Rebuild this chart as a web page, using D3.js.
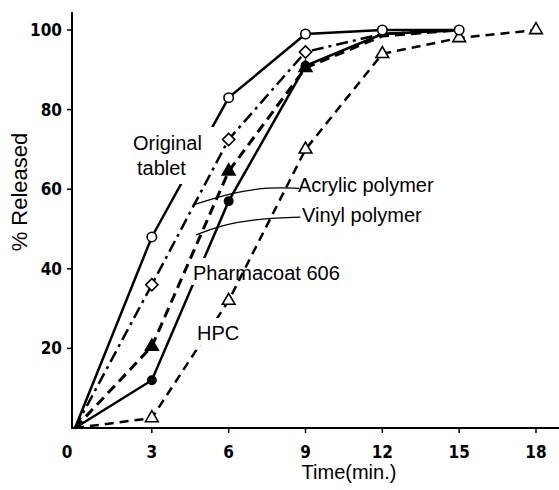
<!DOCTYPE html>
<html><head><meta charset="utf-8">
<script src="https://cdn.jsdelivr.net/npm/d3@7"></script>
<style>
body{margin:0;background:#fff;}
svg{display:block;}
</style></head>
<body>
<script>
// ---- data ----
const times = [0, 3, 6, 9, 12, 15];
const timesHPC = [0, 3, 6, 9, 12, 15, 18];
const original = [0, 48, 83, 99, 100, 100];
const acrylic = [0, 36, 72.5, 94.5, 99, 100];
const vinyl = [0, 20.5, 64.5, 90.5, 98.5, 100];
const pharmacoat = [0, 12, 57, 91, 99, 100];
const hpc = [0, 2.5, 32, 70, 94, 98, 100];
const xTicks = [0, 3, 6, 9, 12, 15, 18];
const yTicks = [20, 40, 60, 80, 100];

const W = 559, H = 490;
const svg = d3.select("body").append("svg").attr("width", W).attr("height", H);
const x = d3.scaleLinear().domain([0, 18]).range([75, 536]);
const y = d3.scaleLinear().domain([0, 100]).range([428, 30]);
const numFont = "'Liberation Sans Narrow','DejaVu Sans Condensed',sans-serif";
const txtFont = "'Liberation Sans',Arial,sans-serif";

// masks for label gaps
const defs = svg.append("defs");
function mkMask(id, r) {
  const m = defs.append("mask").attr("id", id).attr("maskUnits", "userSpaceOnUse")
    .attr("x", 0).attr("y", 0).attr("width", W).attr("height", H);
  m.append("rect").attr("width", W).attr("height", H).attr("fill", "#fff");
  m.append("rect").attr("x", r[0]).attr("y", r[1]).attr("width", r[2]).attr("height", r[3]).attr("fill", "#000");
}
mkMask("mOrig", [115, 127, 100, 57]);
mkMask("mPharm", [180, 258, 40, 27]);
mkMask("mHPC", [190, 318, 40, 27]);

// axes
svg.append("line").attr("x1", 72).attr("x2", 72).attr("y1", 12).attr("y2", 429)
  .attr("stroke", "#000").attr("stroke-width", 2);
svg.append("line").attr("x1", 71).attr("x2", 559).attr("y1", 428).attr("y2", 428)
  .attr("stroke", "#000").attr("stroke-width", 2);
yTicks.forEach(v => {
  svg.append("line").attr("x1", 67).attr("x2", 72).attr("y1", y(v)).attr("y2", y(v))
    .attr("stroke", "#000").attr("stroke-width", 1.5);
  svg.append("text").attr("x", 62).attr("y", y(v)).attr("dy", "0.35em")
    .attr("text-anchor", "end").attr("font-family", numFont).attr("font-weight", "bold")
    .attr("font-size", 17).text(v);
});
xTicks.forEach(v => {
  if (v > 0) svg.append("line").attr("x1", x(v)).attr("x2", x(v)).attr("y1", 428).attr("y2", 433)
    .attr("stroke", "#000").attr("stroke-width", 1.5);
  svg.append("text").attr("x", v === 0 ? 67 : x(v)).attr("y", 458)
    .attr("text-anchor", "middle").attr("font-family", numFont).attr("font-weight", "bold")
    .attr("font-size", 17).text(v);
});
svg.append("text").attr("x", 349).attr("y", 479).attr("text-anchor", "middle")
  .attr("font-family", txtFont).attr("font-size", 20).text("Time(min.)");
svg.append("text").attr("transform", "translate(27,192) rotate(-90)").attr("text-anchor", "middle")
  .attr("font-family", txtFont).attr("font-size", 22).text("% Released");

// series (markerUntil: last time drawn with a visible marker)
const series = [
  {name: "Acrylic polymer", t: times, v: acrylic, dash: "12,5,3,5", w: 2.5, mask: null, marker: "diamondOpen", markerUntil: 9},
  {name: "Vinyl polymer", t: times, v: vinyl, dash: "10,6", w: 3, mask: null, marker: "triFilled", markerUntil: 9},
  {name: "Pharmacoat 606", t: times, v: pharmacoat, dash: null, w: 2.5, mask: "mPharm", marker: "circleFilled", markerUntil: 9},
  {name: "HPC", t: timesHPC, v: hpc, dash: "9,6", w: 2.5, mask: "mHPC", marker: "triOpen", markerUntil: 18},
  {name: "Original tablet", t: times, v: original, dash: null, w: 2.5, mask: "mOrig", marker: "circleOpen", markerUntil: 15}
];
const line = d3.line().x(d => x(d[0])).y(d => y(d[1]));
series.forEach(s => {
  const pts = s.t.map((t, i) => [t, s.v[i]]);
  const p = svg.append("path").attr("d", line(pts)).attr("fill", "none")
    .attr("stroke", "#000").attr("stroke-width", s.w);
  if (s.dash) p.attr("stroke-dasharray", s.dash);
  if (s.mask) p.attr("mask", `url(#${s.mask})`);
});
const sym = {
  circleOpen: {type: d3.symbolCircle, size: 70, fill: "#fff", rot: 0},
  diamondOpen: {type: d3.symbolSquare, size: 75, fill: "#fff", rot: 45},
  triFilled: {type: d3.symbolTriangle, size: 70, fill: "#000", rot: 0},
  circleFilled: {type: d3.symbolCircle, size: 55, fill: "#000", rot: 0},
  triOpen: {type: d3.symbolTriangle, size: 70, fill: "#fff", rot: 0}
};
series.forEach(s => {
  const m = sym[s.marker];
  s.t.forEach((t, i) => {
    if (t === 0 || t > s.markerUntil) return;
    svg.append("path").attr("d", d3.symbol().type(m.type).size(m.size)())
      .attr("transform", `translate(${x(t)},${y(s.v[i])}) rotate(${m.rot})`)
      .attr("fill", m.fill).attr("stroke", "#000").attr("stroke-width", 1.6);
  });
});

// labels
const lab = (txt, px, py) => svg.append("text").attr("x", px).attr("y", py)
  .attr("font-family", txtFont).attr("font-size", 20).text(txt);
lab("Original", 133, 150);
lab("tablet", 137, 175);
lab("Acrylic polymer", 298, 192);
lab("Vinyl polymer", 302, 222);
lab("Pharmacoat 606", 193, 280);
lab("HPC", 197, 340);

// leader lines
const leaderAcrylic = [[4.6, 56], [6.2, 59.3], [7.6, 60.5], [8.75, 60.2]];
const leaderVinyl = [[4.73, 48.5], [5.66, 50.8], [6.95, 52.5], [8.8, 53]];
const curve = d3.line().x(d => x(d[0])).y(d => y(d[1])).curve(d3.curveBasis);
[leaderAcrylic, leaderVinyl].forEach(L => {
  svg.append("path").attr("d", curve(L)).attr("fill", "none")
    .attr("stroke", "#000").attr("stroke-width", 1.3);
});
</script>
</body></html>
